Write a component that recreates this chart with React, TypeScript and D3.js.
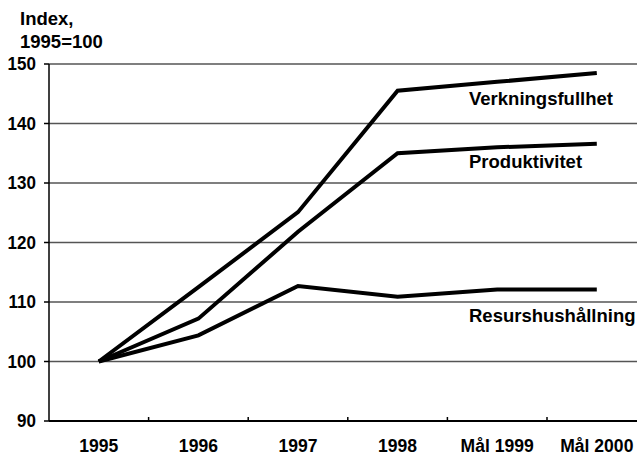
import React from "react";
import * as d3 from "d3";

const categories = ["1995", "1996", "1997", "1998", "Mål 1999", "Mål 2000"];
const verkningsfullhet = [100, 112.5, 125.1, 145.5, 147.0, 148.5];
const produktivitet = [100, 107.2, 121.8, 135.0, 136.0, 136.6];
const resurshushallning = [100, 104.4, 112.7, 110.9, 112.1, 112.1];
const yTicks = [90, 100, 110, 120, 130, 140, 150];
const seriesNames = ["Verkningsfullhet", "Produktivitet", "Resurshushållning"];

const W = 637;
const H = 455;
const FONT = "'Liberation Sans', Arial, sans-serif";

function T({
  x,
  y,
  anchor = "start",
  size = 18.5,
  sx = 1,
  children,
}: {
  x: number;
  y: number;
  anchor?: string;
  size?: number;
  sx?: number;
  children: React.ReactNode;
}) {
  return (
    <text
      transform={`translate(${x},${y}) scale(${sx},1)`}
      fontSize={size}
      fontWeight="bold"
      textAnchor={anchor}
      fill="#000"
    >
      {children}
    </text>
  );
}

export default function App() {
  const x = d3.scaleBand<string>().domain(categories).range([49, 49 + 6 * 99.6]).padding(0);
  const y = d3.scaleLinear().domain([90, 150]).range([421, 64]);
  const cx = (c: string) => (x(c) as number) + x.bandwidth() / 2;
  const line = d3
    .line<number>()
    .x((_, i) => cx(categories[i]))
    .y((v) => y(v));
  const series = [verkningsfullhet, produktivitet, resurshushallning];
  const labelPos = [
    { x: 469, y: 105 },
    { x: 469, y: 168 },
    { x: 469, y: 322 },
  ];
  return (
    <svg
      width={W}
      height={H}
      style={{ position: "absolute", left: 0, top: 0, background: "#fff" }}
      fontFamily={FONT}
    >
      <T x={20} y={25}>Index,</T>
      <T x={20} y={48}>1995=100</T>
      {yTicks.map((t) => (
        <g key={t}>
          {t > 90 && (
            <line x1={49} x2={W} y1={y(t)} y2={y(t)} stroke="#555" strokeWidth={1.5} />
          )}
          <line x1={44} x2={49} y1={y(t)} y2={y(t)} stroke="#000" strokeWidth={1.5} />
          <T x={36} y={y(t) + 6} anchor="end" sx={0.92}>
            {t}
          </T>
        </g>
      ))}
      <line x1={49} x2={49} y1={y(150)} y2={y(90)} stroke="#000" strokeWidth={1.5} />
      <line x1={49} x2={W} y1={y(90)} y2={y(90)} stroke="#000" strokeWidth={2} />
      {categories.slice(1).map((c) => (
        <line key={c} x1={x(c)} x2={x(c)} y1={y(90)} y2={y(90) - 4} stroke="#000" strokeWidth={1.5} />
      ))}
      {categories.map((c) => (
        <T key={c} x={cx(c)} y={452} anchor="middle" sx={0.95}>
          {c}
        </T>
      ))}
      {series.map((s, i) => (
        <path
          key={i}
          d={line(s) as string}
          fill="none"
          stroke="#000"
          strokeWidth={4}
          strokeLinejoin="miter"
        />
      ))}
      {seriesNames.map((n, i) => (
        <T key={n} x={labelPos[i].x} y={labelPos[i].y}>
          {n}
        </T>
      ))}
    </svg>
  );
}
